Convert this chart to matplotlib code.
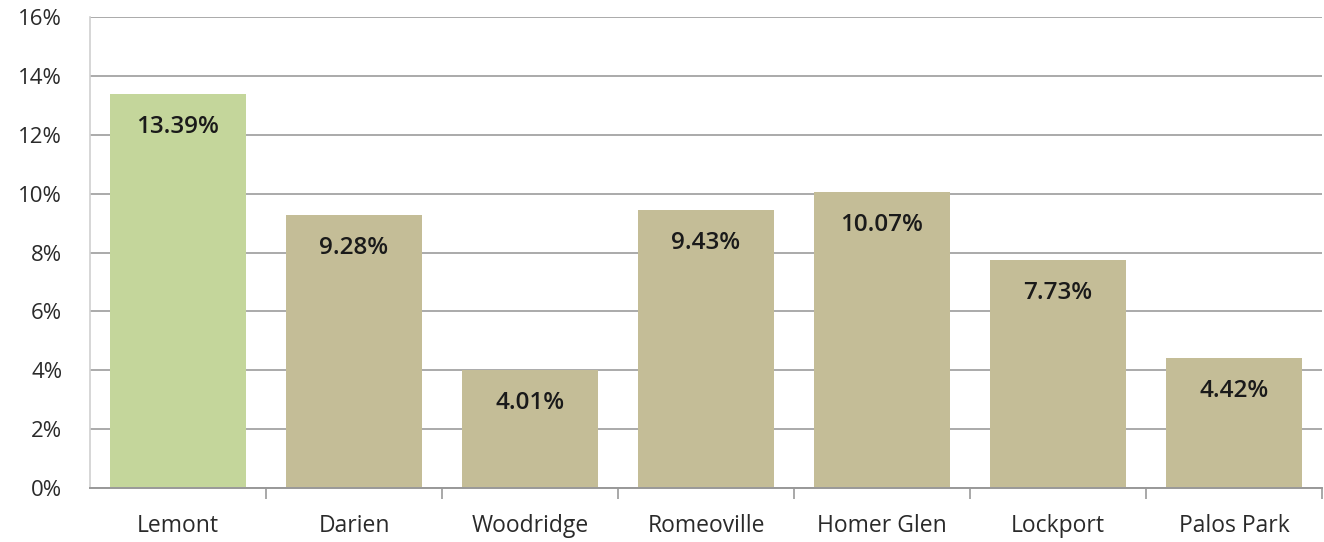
import matplotlib.pyplot as plt
import numpy as np
from matplotlib.ticker import FuncFormatter, MultipleLocator

# Share of residents per community (percent)
towns = ["Lemont", "Darien", "Woodridge", "Romeoville", "Homer Glen", "Lockport", "Palos Park"]
share = [13.39, 9.28, 4.01, 9.43, 10.07, 7.73, 4.42]
bar_colors = ["#c4d69b", "#c4bd97", "#c4bd97", "#c4bd97", "#c4bd97", "#c4bd97", "#c4bd97"]

plt.rcParams['font.family'] = ['Open Sans', 'DejaVu Sans']

fig = plt.figure(figsize=(13.24, 5.42), dpi=100)
ax = fig.add_axes([0.068, 0.0996, 0.9305, 0.869])

x = np.arange(len(towns))
bars = ax.bar(x, share, width=0.77, color=bar_colors, zorder=2)

for rect, v in zip(bars, share):
    ax.annotate(f"{v:.2f}%", (rect.get_x() + rect.get_width() / 2, rect.get_height()),
                xytext=(0, -33), textcoords='offset pixels', ha='center', va='center',
                fontsize=17.5, fontweight='semibold', color='#1a1a1a')

ax.set_xlim(-0.5, len(towns) - 0.5)
ax.set_ylim(0, 16)
ax.yaxis.set_major_locator(MultipleLocator(2))
ax.yaxis.set_major_formatter(FuncFormatter(lambda v, _: f"{v:.0f}%"))
ax.grid(axis='y', color='#aaaaaa', linewidth=1.4, zorder=0)

ax.set_xticks(x)
ax.set_xticklabels(towns)
ax.set_xticks(np.arange(len(towns)) + 0.5, minor=True)
ax.tick_params(axis='x', which='major', length=0, pad=19, labelsize=16.5, colors='#2a2a2a')
ax.tick_params(axis='x', which='minor', length=8, width=1.2, color='#999999')
ax.tick_params(axis='y', length=0, pad=20, labelsize=16, colors='#2a2a2a')

for side in ['top', 'right']:
    ax.spines[side].set_visible(False)
ax.spines['left'].set_color('#d0d0d0')
ax.spines['left'].set_linewidth(1.2)
ax.spines['bottom'].set_color('#999999')
ax.spines['bottom'].set_linewidth(1.4)

fig.savefig("out.png", dpi=100)
